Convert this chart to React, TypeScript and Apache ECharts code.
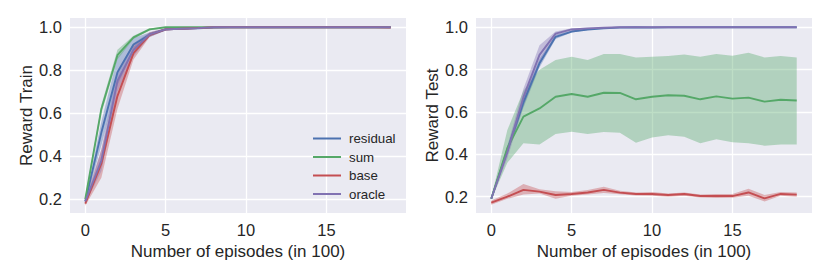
import React, { useEffect, useRef } from "react";
import * as echarts from "echarts";

const episodes = Array.from({ length: 20 }, (_, i) => i);
const methods = ["residual", "sum", "base", "oracle"];
const colors = ["#4C72B0", "#55A868", "#C44E52", "#8172B2"];
const xTicks = [0, 5, 10, 15];
const yTicks = [0.2, 0.4, 0.6, 0.8, 1.0];

// Train panel
const trainResidual = [0.19, 0.51, 0.79, 0.92, 0.965, 0.99, 0.993, 0.995, 0.999, 1, 1, 1, 1, 1, 1, 1, 1, 1, 1, 1];
const trainResidualLo = [0.18, 0.45, 0.73, 0.89, 0.955, 0.985, 0.99, 0.993, 0.998, 1, 1, 1, 1, 1, 1, 1, 1, 1, 1, 1];
const trainResidualHi = [0.2, 0.56, 0.86, 0.95, 0.975, 0.995, 0.996, 0.997, 1, 1, 1, 1, 1, 1, 1, 1, 1, 1, 1, 1];
const trainSum = [0.2, 0.62, 0.87, 0.953, 0.99, 1.0, 1, 1, 1, 1, 1, 1, 1, 1, 1, 1, 1, 1, 1, 1];
const trainSumLo = [0.19, 0.6, 0.85, 0.945, 0.985, 0.998, 1, 1, 1, 1, 1, 1, 1, 1, 1, 1, 1, 1, 1, 1];
const trainSumHi = [0.21, 0.64, 0.895, 0.96, 0.995, 1, 1, 1, 1, 1, 1, 1, 1, 1, 1, 1, 1, 1, 1, 1];
const trainBase = [0.18, 0.365, 0.68, 0.88, 0.965, 0.99, 0.993, 0.996, 1, 1, 1, 1, 1, 1, 1, 1, 1, 1, 1, 0.999];
const trainBaseLo = [0.17, 0.3, 0.62, 0.85, 0.955, 0.985, 0.99, 0.994, 0.999, 1, 1, 1, 1, 1, 1, 1, 1, 1, 1, 0.998];
const trainBaseHi = [0.19, 0.43, 0.74, 0.91, 0.975, 0.995, 0.996, 0.998, 1, 1, 1, 1, 1, 1, 1, 1, 1, 1, 1, 1];
const trainOracle = [0.19, 0.38, 0.75, 0.895, 0.967, 0.99, 0.993, 0.996, 1, 1, 1, 1, 1, 1, 1, 1, 1, 1, 1, 1];
const trainOracleLo = [0.18, 0.33, 0.7, 0.865, 0.957, 0.985, 0.99, 0.994, 0.999, 1, 1, 1, 1, 1, 1, 1, 1, 1, 1, 1];
const trainOracleHi = [0.2, 0.43, 0.8, 0.925, 0.977, 0.995, 0.996, 0.998, 1, 1, 1, 1, 1, 1, 1, 1, 1, 1, 1, 1];

// Test panel
const testResidual = [0.19, 0.42, 0.645, 0.83, 0.955, 0.98, 0.99, 0.995, 0.999, 1, 0.999, 1, 1, 1, 1, 1, 1, 1, 1, 1];
const testResidualLo = [0.185, 0.4, 0.62, 0.81, 0.945, 0.975, 0.987, 0.993, 0.998, 1, 0.997, 1, 1, 1, 1, 1, 1, 1, 1, 1];
const testResidualHi = [0.195, 0.44, 0.67, 0.85, 0.965, 0.985, 0.993, 0.997, 1, 1, 1, 1, 1, 1, 1, 1, 1, 1, 1, 1];
const testSum = [0.19, 0.43, 0.578, 0.617, 0.672, 0.685, 0.672, 0.691, 0.69, 0.66, 0.672, 0.679, 0.677, 0.66, 0.674, 0.663, 0.668, 0.649, 0.658, 0.654];
const testSumLo = [0.185, 0.36, 0.452, 0.447, 0.496, 0.507, 0.496, 0.505, 0.502, 0.455, 0.48, 0.49, 0.483, 0.452, 0.471, 0.457, 0.452, 0.441, 0.447, 0.447];
const testSumHi = [0.195, 0.515, 0.7, 0.8, 0.846, 0.861, 0.846, 0.874, 0.874, 0.858, 0.861, 0.865, 0.872, 0.861, 0.874, 0.866, 0.88, 0.858, 0.865, 0.858];
const testBase = [0.172, 0.2, 0.232, 0.224, 0.208, 0.213, 0.22, 0.232, 0.219, 0.213, 0.213, 0.208, 0.213, 0.203, 0.203, 0.203, 0.22, 0.192, 0.213, 0.21];
const testBaseLo = [0.162, 0.19, 0.21, 0.215, 0.19, 0.205, 0.21, 0.218, 0.212, 0.206, 0.205, 0.2, 0.205, 0.196, 0.194, 0.195, 0.205, 0.177, 0.205, 0.2];
const testBaseHi = [0.182, 0.215, 0.26, 0.235, 0.226, 0.222, 0.232, 0.247, 0.228, 0.22, 0.222, 0.215, 0.22, 0.21, 0.213, 0.213, 0.238, 0.208, 0.222, 0.22];
const testOracle = [0.19, 0.41, 0.67, 0.87, 0.97, 0.99, 0.995, 0.998, 1, 1, 1, 1, 1, 1, 1, 1, 1, 1, 1, 1];
const testOracleLo = [0.185, 0.38, 0.63, 0.825, 0.96, 0.985, 0.992, 0.996, 0.999, 1, 1, 1, 1, 1, 1, 1, 1, 1, 1, 1];
const testOracleHi = [0.195, 0.44, 0.71, 0.915, 0.98, 0.995, 0.998, 1, 1, 1, 1, 1, 1, 1, 1, 1, 1, 1, 1, 1];

const trainMeans = [trainResidual, trainSum, trainBase, trainOracle];
const trainLows = [trainResidualLo, trainSumLo, trainBaseLo, trainOracleLo];
const trainHighs = [trainResidualHi, trainSumHi, trainBaseHi, trainOracleHi];
const testMeans = [testResidual, testSum, testBase, testOracle];
const testLows = [testResidualLo, testSumLo, testBaseLo, testOracleLo];
const testHighs = [testResidualHi, testSumHi, testBaseHi, testOracleHi];

const FONT = "'Liberation Sans', Arial, sans-serif";
const TEXT = "#262626";

function panelSeries(panel: number, means: number[][], lows: number[][], highs: number[][]) {
  const out: any[] = [];
  methods.forEach((m, k) => {
    const data = episodes.map((x, i) => [x, lows[k][i], highs[k][i]]);
    out.push({
      name: `${m}-band-${panel}`,
      type: "custom",
      xAxisIndex: panel,
      yAxisIndex: panel,
      silent: true,
      clip: true,
      encode: { x: 0, y: [1, 2] },
      data,
      z: 2,
      renderItem: (params: any, api: any) => {
        if (params.dataIndex !== 0) return null;
        const upper = data.map((d) => api.coord([d[0], d[2]]));
        const lower = data.map((d) => api.coord([d[0], d[1]])).reverse();
        return {
          type: "polygon",
          shape: { points: upper.concat(lower) },
          style: { fill: colors[k], opacity: 0.38 },
        };
      },
    });
    out.push({
      name: m,
      type: "line",
      xAxisIndex: panel,
      yAxisIndex: panel,
      symbol: "none",
      color: colors[k],
      lineStyle: { color: colors[k], width: 1.9 },
      data: episodes.map((x, i) => [x, means[k][i]]),
      z: 3,
    });
  });
  return out;
}

function xAxis(grid: number) {
  return {
    type: "value",
    gridIndex: grid,
    min: -0.95,
    max: 19.95,
    name: "Number of episodes (in 100)",
    nameLocation: "middle",
    nameGap: 25,
    nameTextStyle: { fontSize: 17, color: TEXT, fontFamily: FONT },
    axisLine: { show: false },
    axisTick: { show: false, customValues: xTicks },
    axisLabel: {
      customValues: xTicks,
      fontSize: 16.5,
      color: TEXT,
      fontFamily: FONT,
      margin: 8,
    },
    splitLine: { show: true, lineStyle: { color: "#ffffff", width: 1.3 } },
  };
}

function yAxis(grid: number, name: string, min: number, max: number) {
  return {
    type: "value",
    gridIndex: grid,
    min,
    max,
    name,
    nameLocation: "middle",
    nameRotate: 90,
    nameGap: 34,
    nameTextStyle: { fontSize: 17, color: TEXT, fontFamily: FONT },
    axisLine: { show: false },
    axisTick: { show: false, customValues: yTicks },
    axisLabel: {
      customValues: yTicks,
      fontSize: 16.5,
      color: TEXT,
      fontFamily: FONT,
      margin: 8,
      formatter: (v: number) => v.toFixed(1),
    },
    splitLine: { show: true, lineStyle: { color: "#ffffff", width: 1.3 } },
  };
}

export default function App() {
  const ref = useRef<HTMLDivElement>(null);
  useEffect(() => {
    if (!ref.current) return;
    const chart = echarts.init(ref.current, undefined, { renderer: "svg" });
    chart.setOption({
      animation: false,
      textStyle: { fontFamily: FONT },
      grid: [
        { left: 70, top: 18, width: 336, height: 195, show: true, backgroundColor: "#EAEAF2", borderWidth: 0 },
        { left: 476, top: 18, width: 336, height: 195, show: true, backgroundColor: "#EAEAF2", borderWidth: 0 },
      ],
      xAxis: [xAxis(0), xAxis(1)],
      yAxis: [yAxis(0, "Reward Train", 0.136, 1.043), yAxis(1, "Reward Test", 0.123, 1.044)],
      legend: {
        data: methods.map((m) => ({ name: m, icon: "rect" })),
        orient: "vertical",
        left: 308,
        top: 127,
        itemWidth: 28,
        itemHeight: 2,
        itemGap: 5.5,
        textStyle: { fontSize: 13.3, color: TEXT, fontFamily: FONT, padding: [0, 0, 0, 3] },
      },
      series: [
        ...panelSeries(0, trainMeans, trainLows, trainHighs),
        ...panelSeries(1, testMeans, testLows, testHighs),
      ],
    });
    return () => chart.dispose();
  }, []);
  return <div ref={ref} style={{ position: "absolute", left: 0, top: 0, width: 830, height: 277 }} />;
}
